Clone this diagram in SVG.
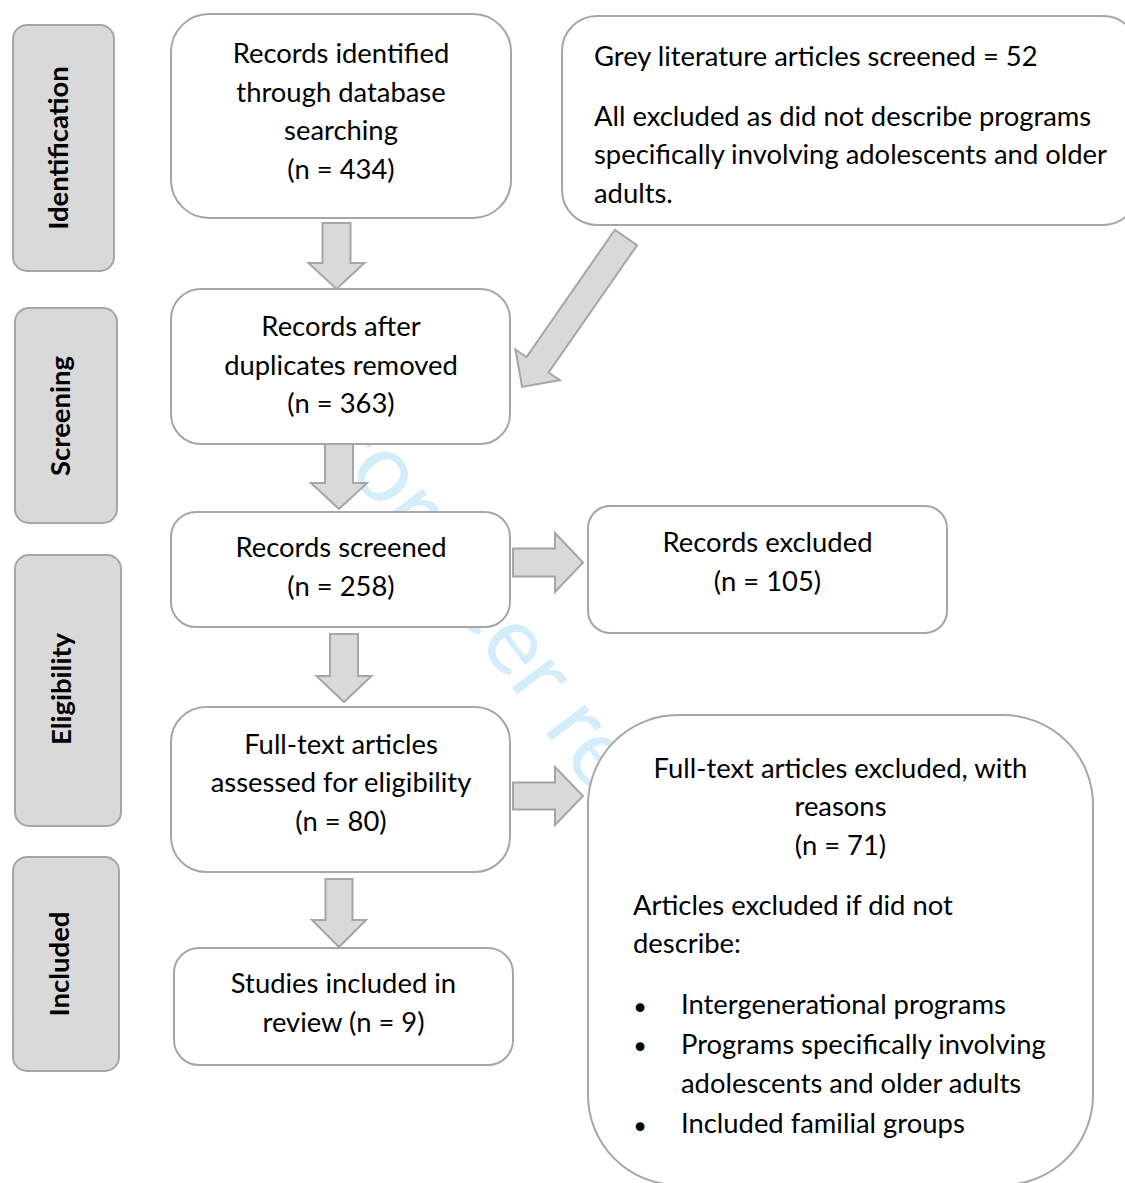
<svg xmlns="http://www.w3.org/2000/svg" width="1125" height="1183" viewBox="0 0 1125 1183">
<style>
.box{fill:#fff;stroke:#a6a6a6;stroke-width:2}
.side{fill:#d9d9d9;stroke:#a6a6a6;stroke-width:2}
.arrow{fill:#d9d9d9;stroke:#a6a6a6;stroke-width:2}
.t{font-family:Lato,"Liberation Sans",sans-serif;font-size:27.4px;fill:#000}
.c{text-anchor:middle}
.lbl{font-family:Lato,"Liberation Sans",sans-serif;font-size:27.5px;font-weight:bold;text-anchor:middle;fill:#000}
.wm{font-family:Lato,"Liberation Sans",sans-serif;font-size:96px;fill:#d3eefa}
.bul{font-family:"DejaVu Sans",sans-serif;font-size:30px;text-anchor:middle;fill:#000}
</style>
<rect width="1125" height="1183" fill="#fff"/>
<g id="watermark">
<text class="wm" transform="translate(498,633) rotate(53)" x="-272" y="22">For peer review only</text>
</g>
<g id="stage-identification"><rect class="side" x="13" y="25" width="101" height="246" rx="14"/><text class="lbl" transform="translate(68,148) rotate(-90)">Identification</text></g>
<g id="stage-screening"><rect class="side" x="15" y="308" width="102" height="215" rx="14"/><text class="lbl" transform="translate(70,416) rotate(-90)">Screening</text></g>
<g id="stage-eligibility"><rect class="side" x="15" y="555" width="106" height="271" rx="14"/><text class="lbl" transform="translate(71,689) rotate(-90)">Eligibility</text></g>
<g id="stage-included"><rect class="side" x="13" y="857" width="106" height="214" rx="14"/><text class="lbl" transform="translate(69,964) rotate(-90)">Included</text></g>
<g id="connectors">
<polygon class="arrow" points="322.5,223 350.5,223 350.5,263 364.5,263 336.5,289 308.5,263 322.5,263"/>
<polygon class="arrow" points="325,443 353,443 353,483 367,483 339,509 311,483 325,483"/>
<polygon class="arrow" points="330,634 358,634 358,676 371.5,676 344,702 316.5,676 330,676"/>
<polygon class="arrow" points="325.5,879 352.5,879 352.5,920 366,920 339,947 312,920 325.5,920"/>
<polygon class="arrow" points="513,548.5 555,548.5 555,533 583,562.5 555,592 555,576.5 513,576.5"/>
<polygon class="arrow" points="513,782.5 555,782.5 555,767 583,796 555,825 555,809.5 513,809.5"/>
<polygon class="arrow" transform="translate(626,237.5) rotate(34.8)" points="-13.5,0 13.5,0 13.5,155 27,155 0,182 -27,155 -13.5,155"/>
</g>
<g id="records-identified"><rect class="box" x="171" y="14" width="340" height="204" rx="38"/>
<text class="t c" x="341" y="63">Records identified</text>
<text class="t c" x="341" y="101.5">through database</text>
<text class="t c" x="341" y="140">searching</text>
<text class="t c" x="341" y="178.5">(n = 434)</text></g>
<g id="grey-literature"><rect class="box" x="562" y="16" width="576" height="209" rx="35"/>
<text class="t" x="594" y="66">Grey literature articles screened = 52</text>
<text class="t" x="594" y="126">All excluded as did not describe programs</text>
<text class="t" x="594" y="164">specifically involving adolescents and older</text>
<text class="t" x="594" y="202.5">adults.</text></g>
<g id="records-after-duplicates"><rect class="box" x="171" y="289" width="339" height="155" rx="30"/>
<text class="t c" x="341" y="336">Records after</text>
<text class="t c" x="341" y="374.5">duplicates removed</text>
<text class="t c" x="341" y="413">(n = 363)</text></g>
<g id="records-screened"><rect class="box" x="171" y="512" width="339" height="115" rx="25"/>
<text class="t c" x="341" y="557">Records screened</text>
<text class="t c" x="341" y="595.5">(n = 258)</text></g>
<g id="records-excluded"><rect class="box" x="588" y="506" width="359" height="127" rx="22"/>
<text class="t c" x="767.5" y="552">Records excluded</text>
<text class="t c" x="767.5" y="590.5">(n = 105)</text></g>
<g id="fulltext-assessed"><rect class="box" x="171" y="707" width="339" height="165" rx="35"/>
<text class="t c" x="341" y="753.5">Full-text articles</text>
<text class="t c" x="341" y="792">assessed for eligibility</text>
<text class="t c" x="341" y="831">(n = 80)</text></g>
<g id="fulltext-excluded"><rect class="box" x="588" y="715" width="505" height="470" rx="90"/>
<text class="t c" x="840.5" y="777.5">Full-text articles excluded, with</text>
<text class="t c" x="840.5" y="816">reasons</text>
<text class="t c" x="840.5" y="854.5">(n = 71)</text>
<text class="t" x="633" y="914.5">Articles excluded if did not</text>
<text class="t" x="633" y="953">describe:</text>
<text class="bul" x="640" y="1019">•</text>
<text class="t" x="681" y="1014">Intergenerational programs</text>
<text class="bul" x="640" y="1058">•</text>
<text class="t" x="681" y="1054">Programs specifically involving</text>
<text class="t" x="681" y="1093">adolescents and older adults</text>
<text class="bul" x="640" y="1138">•</text>
<text class="t" x="681" y="1133">Included familial groups</text></g>
<g id="studies-included"><rect class="box" x="174" y="948" width="339" height="117" rx="25"/>
<text class="t c" x="343.5" y="993">Studies included in</text>
<text class="t c" x="343.5" y="1032">review (n = 9)</text></g>
</svg>
